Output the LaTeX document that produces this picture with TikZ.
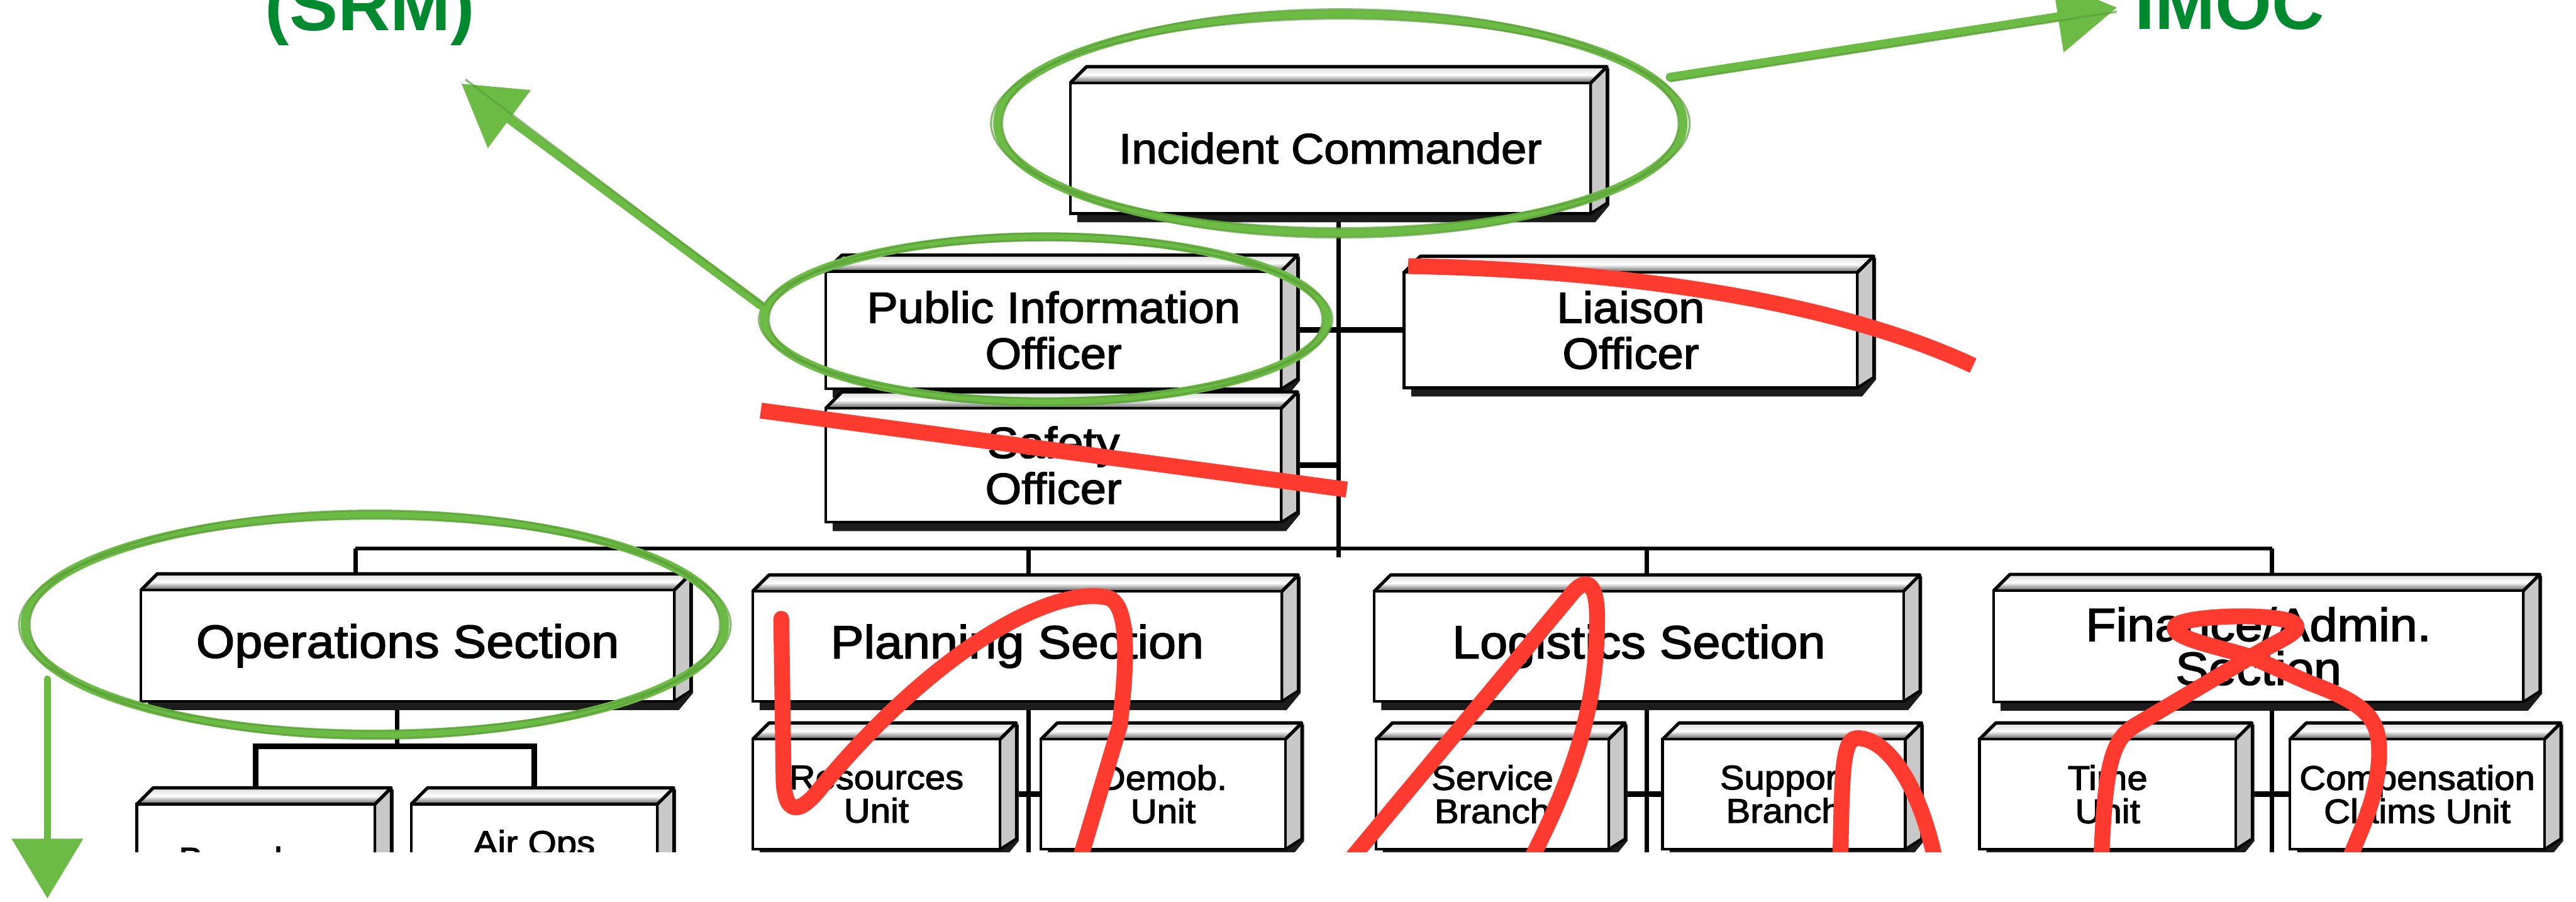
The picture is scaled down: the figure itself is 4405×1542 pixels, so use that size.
\documentclass[tikz,border=0pt]{standalone}
\usepackage{fontspec}
\setmainfont{Liberation Sans}
\newfontfamily\boxfam{Liberation Sans}[FakeStretch=1.07,FakeBold=2.2]
\usetikzlibrary{arrows.meta,shapes.geometric}
\pgfdeclarelayer{back}
\pgfsetlayers{back,main}
\setlength{\lineskiplimit}{-30pt}

\definecolor{brushgreen}{RGB}{108,187,69}
\definecolor{labelgreen}{RGB}{0,137,47}
\definecolor{strikered}{RGB}{255,59,48}
\definecolor{sidegray}{RGB}{200,200,200}
\definecolor{shadowgray}{RGB}{28,28,28}

\newcommand{\fIC}{\boxfam\fontsize{20.7}{22}\selectfont}
\newcommand{\fOff}{\boxfam\fontsize{21.2}{22.3}\selectfont}
\newcommand{\fSec}{\boxfam\fontsize{22.6}{21.3}\selectfont}
\newcommand{\fUnit}{\boxfam\fontsize{16.6}{16.2}\selectfont}
\newcommand{\fLbl}{\bfseries\fontsize{35.3}{40}\selectfont}
\newcommand{\bvl}{28}

% #1 name, #2 x0, #3 y0, #4 x1, #5 y1 (front face), #6 font, #7 text
\newcommand{\icsbox}[7]{%
  \fill[boxshadow] (#2+12,#5-6) -- (#2+12,#5+15) -- (#4+8,#5+15) -- (#4+\bvl+4,#5-14) -- (#4+\bvl+4,#3-\bvl+2) -- (#4,#3) -- cycle;
  \filldraw[sideface] (#4,#3) -- (#4+\bvl,#3-\bvl) -- (#4+\bvl,#5-18) -- (#4,#5) -- cycle;
  \shade[topface] (#2,#3) -- (#2+\bvl,#3-\bvl) -- (#4+\bvl,#3-\bvl) -- (#4,#3) -- cycle;
  \draw[topline] (#2,#3) -- (#2+\bvl,#3-\bvl) -- (#4+\bvl,#3-\bvl) -- (#4,#3);
  \node[frontface, minimum width={(#4-#2)*0.01cm}, minimum height={(#5-#3)*0.01cm}, font=#6] (#1) at ({(#2+#4)/2},{(#3+#5)/2}) {#7};
}

\begin{document}
\begin{tikzpicture}[x=0.01cm, y=-0.01cm,
  topline/.style={draw=black, line width=1.6pt, line join=round},
  frontface/.style={rectangle, draw=black, fill=white, line width=1.3pt, inner sep=0pt, outer sep=0pt, align=center},
  sideface/.style={fill=sidegray, draw=black, line width=1.3pt, line join=round},
  topface/.style={top color=white!85!black, bottom color=black!65, middle color=white},
  boxshadow/.style={fill=shadowgray},
  conn/.style={draw=black, line width=2pt},
  stub/.style={draw=black, line width=2.7pt},
  strike/.style={draw=strikered, line width=7.7pt, line cap=round, line join=round},
  brush/.style={draw=brushgreen, line width=4.3pt, line cap=round},
  brushthin/.style={draw=brushgreen!85!black, line width=1pt, opacity=0.7},
  ring/.style={ellipse, draw=brushgreen, line width=4.2pt, inner sep=0pt, outer sep=0pt},
  greenlabel/.style={text=labelgreen, font=\fLbl, inner sep=0pt, anchor=base west}
]
\path[use as bounding box] (0,0) rectangle (4405,1542);
\clip (0,0) rectangle (4405,1542);

\begin{scope}
\clip (0,0) rectangle (4405,1457);

% boxes
\icsbox{ic}{1830}{142}{2720}{365}{\fIC}{Incident Commander}
\icsbox{pio}{1412}{464}{2191}{665}{\fOff}{Public Information\\Officer}
\icsbox{liaison}{2401}{466}{3176}{663}{\fOff}{Liaison\\Officer}
\icsbox{safety}{1412}{698}{2191}{893}{\fOff}{Safety\\Officer}

\icsbox{ops}{241}{1009}{1153}{1199}{\fSec}{Operations Section}
\icsbox{plan}{1287}{1011}{2192}{1199}{\fSec}{Planning Section}
\icsbox{log}{2350}{1011}{3255}{1199}{\fSec}{Logistics Section}
\icsbox{fin}{3409}{1010}{4315}{1200}{\fSec}{Finance/Admin.\\Section}

\icsbox{branches}{234}{1375}{641}{1563}{\fUnit}{Branches}
\icsbox{airops}{703}{1375}{1124}{1563}{\fUnit}{Air Ops\\Branch}
\icsbox{res}{1287}{1264}{1710}{1452}{\fUnit}{Resources\\Unit}
\icsbox{demob}{1780}{1264}{2198}{1452}{\fUnit}{Demob.\\Unit}
\icsbox{service}{2353}{1264}{2751}{1452}{\fUnit}{Service\\Branch}
\icsbox{support}{2843}{1264}{3258}{1452}{\fUnit}{Support\\Branch}
\icsbox{time}{3385}{1264}{3823}{1452}{\fUnit}{Time\\Unit}
\icsbox{comp}{3916}{1264}{4351}{1452}{\fUnit}{Compensation\\Claims Unit}

% connectors (behind the boxes)
\coordinate (trunkbot) at (2289,953);
\coordinate (busL) at (608,938);
\coordinate (busR) at (3885,938);
\coordinate (opsbus) at (679,1276);
\coordinate (pdrop) at (1759,1457);
\coordinate (ldrop) at (2816,1457);
\coordinate (fdrop) at (3885,1457);
\begin{pgfonlayer}{back}
  \fill[white] (0,0) rectangle (4405,1542);
  \draw[conn] (ic.south -| trunkbot) -- (trunkbot);
  \draw[stub] (pio.east) -- (liaison.west);
  \draw[stub] (safety.east) -- (safety.east -| trunkbot);
  \draw[conn] (busL) -- (busR);
  \draw[conn] (busL) -- (busL |- ops.north);
  \draw[conn] (pdrop |- busL) -- (pdrop |- plan.north);
  \draw[conn] (ldrop |- busL) -- (ldrop |- log.north);
  \draw[conn] (busR) -- (busR |- fin.north);
  \draw[conn] (ops.south -| opsbus) -- (opsbus);
  \draw[stub] (branches.north) -- (branches.north |- opsbus) -- (airops.north |- opsbus) -- (airops.north);
  \draw[conn] (plan.south -| pdrop) -- (pdrop);
  \draw[conn] (log.south -| ldrop) -- (ldrop);
  \draw[conn] (fin.south -| fdrop) -- (fdrop);
  \draw[stub] (res.east) -- (demob.west);
  \draw[stub] (service.east) -- (support.west);
  \draw[stub] (time.east) -- (comp.west);
\end{pgfonlayer}

% red strike-throughs
\draw[strike, line cap=butt] (2408,455) .. controls (2800,462) and (3150,520) .. (3374,625);
\draw[strike, line cap=butt] (1301,702) -- (2303,837);
\draw[strike] (1336,1058) -- (1340,1335) .. controls (1343,1400) and (1372,1388) .. (1405,1345)
   .. controls (1600,1110) and (1800,1000) .. (1895,1022)
   .. controls (1935,1035) and (1925,1150) .. (1915,1240) -- (1845,1475);
\draw[strike] (2305,1475) -- (2688,1015) .. controls (2712,985) and (2732,995) .. (2731,1060)
   .. controls (2730,1190) and (2705,1300) .. (2615,1475);
\draw[strike] (3147,1475) .. controls (3150,1320) and (3150,1262) .. (3176,1262)
   .. controls (3230,1262) and (3285,1350) .. (3310,1475);
\draw[strike] (3593,1475) .. controls (3600,1300) and (3612,1262) .. (3655,1238) -- (3849,1123)
   .. controls (3895,1095) and (3935,1082) .. (3926,1068)
   .. controls (3910,1048) and (3752,1050) .. (3722,1068)
   .. controls (3700,1088) and (3790,1105) .. (3849,1123) -- (3950,1168)
   .. controls (4050,1205) and (4072,1230) .. (4068,1300)
   .. controls (4062,1380) and (4030,1430) .. (4016,1475);
\end{scope}

% green labels
\node[greenlabel] (srm) at (453,52) {(SRM)};
\node[greenlabel] (imoc) at (3650,50) {IMOC};

% green rings
\node[ring, minimum width=11.72cm, minimum height=3.74cm] (icring) at (2292,211) {};
\node[ring, minimum width=9.62cm, minimum height=2.82cm] (pioring) at (1788,546) {};
\node[ring, minimum width=11.96cm, minimum height=3.76cm] (opsring) at (641,1068) {};
\draw[brushthin] (icring.center) ellipse [x radius=5.97cm, y radius=1.79cm];
\draw[brushthin] (icring.center) ellipse [x radius=5.78cm, y radius=1.95cm];
\draw[brushthin] (pioring.center) ellipse [x radius=4.90cm, y radius=1.35cm];
\draw[brushthin] (pioring.center) ellipse [x radius=4.73cm, y radius=1.47cm];
\draw[brushthin] (opsring.center) ellipse [x radius=6.08cm, y radius=1.81cm];
\draw[brushthin] (opsring.center) ellipse [x radius=5.90cm, y radius=1.95cm];

% green arrows
\coordinate (srmtail) at (1301,522);
\coordinate (srmtip) at (789,143);
\coordinate (imoctail) at (2856,132);
\coordinate (imoctip) at (3620,13);
\coordinate (downtail) at (81,1161);
\coordinate (downtip) at (81,1536);
\draw[brush, -{Triangle[length=29pt,width=34pt]}] (srmtail) -- (srmtip);
\draw[brush, -{Triangle[length=29pt,width=34pt]}] (imoctail) -- (imoctip);
\draw[brush, line width=3.4pt, -{Triangle[length=29pt,width=34pt]}] (downtail) -- (downtip);
\draw[brushthin] ([xshift=2pt]srmtail) -- ([shift={(2pt,2pt)}]srmtip);
\draw[brushthin] ([yshift=-2pt]imoctail) -- ([yshift=-2pt]imoctip);
\end{tikzpicture}
\end{document}
